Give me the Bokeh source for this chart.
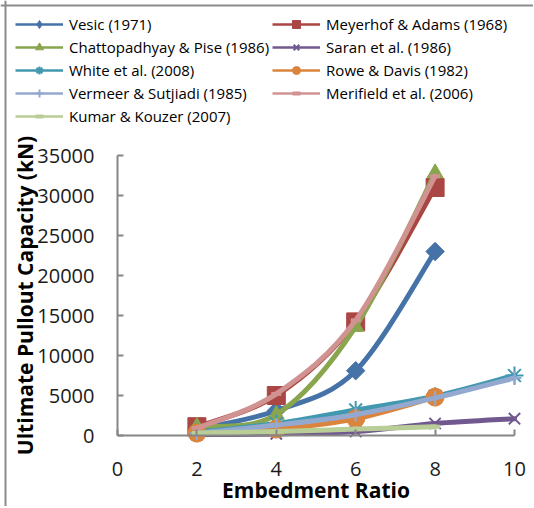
import numpy as np
from bokeh.plotting import figure
from bokeh.models import Range1d, FixedTicker, Legend, LegendItem, ColumnDataSource, Span
from bokeh.embed import file_html
from bokeh.resources import INLINE

# ---- data ----
x_short = [2, 4, 6, 8]
x_long = [2, 4, 6, 8, 10]

vesic = [800, 3100, 8100, 23000]
meyerhof = [1100, 5000, 14200, 31000]
chatto = [1100, 2600, 13600, 32800]
saran = [100, 200, 500, 1500, 2100]
white = [400, 1500, 3200, 4900, 7500]
rowe = [300, 800, 2100, 4800]
vermeer = [300, 1300, 2600, 4700, 7200]
merifield = [900, 5200, 14400, 32400]
kumar = [300, 500, 800, 1100]

x_ticks = [0, 2, 4, 6, 8, 10]
y_ticks = [0, 5000, 10000, 15000, 20000, 25000, 30000, 35000]

names = ["Vesic (1971)", "Meyerhof & Adams (1968)", "Chattopadhyay & Pise (1986)",
         "Saran et al. (1986)", "White et al. (2008)", "Rowe & Davis (1982)",
         "Vermeer & Sutjiadi (1985)", "Merifield et al. (2006)", "Kumar & Kouzer (2007)"]
xs_list = [x_short, x_short, x_short, x_long, x_long, x_short, x_long, x_short, x_short]
ys_list = [vesic, meyerhof, chatto, saran, white, rowe, vermeer, merifield, kumar]
colors = ["#4572A7", "#AA4643", "#89A54E", "#71588F", "#4198AF", "#DB843D",
          "#93A9CF", "#D19392", "#B9CD96"]
markers = ["square", "square", "triangle", "x", "asterisk", "circle", "cross", "dash", "dash"]
key_markers = ["diamond", "square", "triangle", "x", "asterisk", "circle", "cross", "dash", "dash"]
msizes = [13, 18, 16, 16, 18, 18, 14, 10, 10]
mangles = [np.pi / 4, 0, 0, 0, 0, 0, 0, 0, 0]

FONT = "Open Sans"

# The frame covers the whole canvas; axes are pinned at x=0 / y=0 (Excel-like layout
# with the legend above the plot area).
W, H = 533, 506
px_per_x = 39.7          # pixels per x unit
px_per_y = 0.008         # pixels per y unit
x0_px, y0_px = 117, 435  # canvas position of the origin
p = figure(width=W, height=H, output_backend="svg", toolbar_location=None,
           x_range=Range1d(-x0_px / px_per_x, (W - x0_px) / px_per_x),
           y_range=Range1d(-(H - y0_px) / px_per_y, y0_px / px_per_y),
           min_border_left=0, min_border_right=0, min_border_top=0, min_border_bottom=0)
p.outline_line_color = None
p.xgrid.grid_line_color = None
p.ygrid.grid_line_color = None
p.background_fill_color = "white"
p.border_fill_color = "white"

# chart-area border (left and top edges visible)
p.add_layout(Span(location=(5 - x0_px) / px_per_x, dimension="height",
                  line_color="#8C8C8C", line_width=2))
p.add_layout(Span(location=(y0_px - 5) / px_per_y, dimension="width",
                  line_color="#8C8C8C", line_width=2))

for ax in (p.xaxis[0], p.yaxis[0]):
    ax.fixed_location = 0
    ax.axis_line_color = "#868686"
    ax.axis_line_width = 2
    ax.major_tick_line_color = "#868686"
    ax.major_tick_line_width = 2
    ax.major_tick_in = 6
    ax.major_tick_out = 0
    ax.minor_tick_line_color = None
    ax.major_label_text_font = FONT
    ax.major_label_text_font_size = "20px"
    ax.major_label_text_color = "#1a1a1a"
    ax.axis_label_text_font = FONT
    ax.axis_label_text_font_style = "bold"
    ax.axis_label_text_font_size = "21px"
    ax.axis_label_text_color = "black"

p.xaxis.bounds = (x_ticks[0], x_ticks[-1])
p.yaxis.bounds = (y_ticks[0], y_ticks[-1])
p.xaxis.ticker = FixedTicker(ticks=x_ticks)
p.yaxis.ticker = FixedTicker(ticks=y_ticks)
p.xaxis.major_label_standoff = 26
p.yaxis.major_label_standoff = 23
p.xaxis.axis_label = "Embedment Ratio"
p.yaxis.axis_label = "Ultimate Pullout Capacity (kN)"
p.xaxis.axis_label_standoff = -3
p.yaxis.axis_label_standoff = -5


def smooth_segments(xs, ys):
    """Cubic Bezier segments through the data points (Excel-style smoothing)."""
    n = len(xs)
    P = [(float(a), float(b)) for a, b in zip(xs, ys)]
    segs = dict(x0=[], y0=[], x1=[], y1=[], cx0=[], cy0=[], cx1=[], cy1=[])
    for i in range(n - 1):
        p0 = P[i - 1] if i > 0 else P[i]
        p1 = P[i]
        p2 = P[i + 1]
        p3 = P[i + 2] if i + 2 < n else P[i + 1]
        segs["x0"].append(p1[0]); segs["y0"].append(p1[1])
        segs["x1"].append(p2[0]); segs["y1"].append(p2[1])
        segs["cx0"].append(p1[0] + (p2[0] - p0[0]) / 6)
        segs["cy0"].append(p1[1] + (p2[1] - p0[1]) / 6)
        segs["cx1"].append(p2[0] - (p3[0] - p1[0]) / 6)
        segs["cy1"].append(p2[1] - (p3[1] - p1[1]) / 6)
    return segs


legend_items = []
for name, xs, ys, c, m, km, ms, ma in zip(names, xs_list, ys_list, colors, markers,
                                          key_markers, msizes, mangles):
    segs = smooth_segments(xs, ys)
    p.bezier(x0="x0", y0="y0", x1="x1", y1="y1", cx0="cx0", cy0="cy0", cx1="cx1", cy1="cy1",
             source=ColumnDataSource(segs), line_color=c, line_width=5, line_cap="round")
    lw = 2 if m in ("x", "asterisk", "cross") else (4 if m == "dash" else 1)
    # legend keys: a single-point line (invisible) and a first-point marker hidden under
    # the real marker
    key_line = p.line(xs[:1], ys[:1], line_color=c, line_width=2.5)
    key_mark = p.scatter(xs[:1], ys[:1], marker=km, size=ms - 2, fill_color=c, line_color=c,
                         line_width=lw)
    p.scatter(xs, ys, marker=m, size=ms, angle=ma, fill_color=c, line_color=c, line_width=lw)
    legend_items.append(LegendItem(label=name, renderers=[key_line, key_mark]))

# column-major order: first column then second column
order = [0, 2, 4, 6, 8, 1, 3, 5, 7]
legend = Legend(items=[legend_items[i] for i in order], location=(15, H - 126),
                orientation="vertical", nrows=5,
                glyph_width=48, glyph_height=20, label_height=20, spacing=3,
                label_standoff=6, padding=0, margin=0,
                border_line_color=None, background_fill_alpha=0,
                label_text_font=FONT, label_text_font_size="15px", label_text_color="black")
p.add_layout(legend, "center")

open("out.html", "w").write(file_html(p, INLINE))
